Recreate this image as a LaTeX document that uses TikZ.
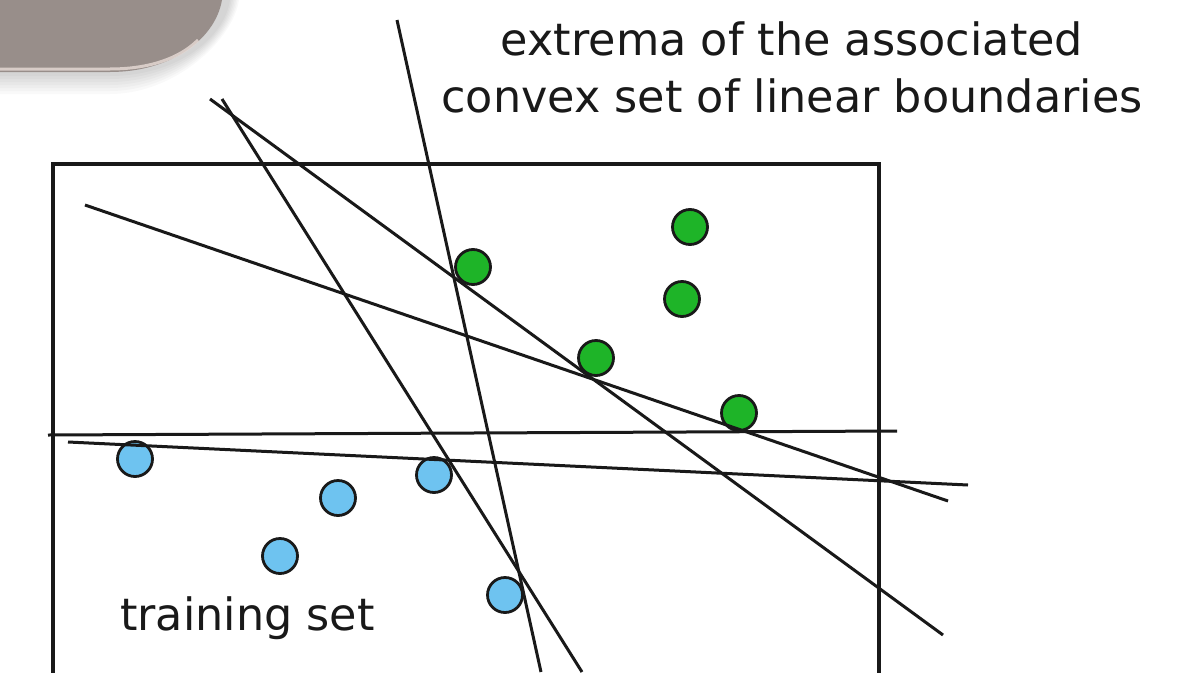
\documentclass[tikz,border=0pt]{standalone}
\usepackage{fontspec}
\setmainfont{DejaVu Sans}
\begin{document}
\begin{tikzpicture}[x=1pt,y=-1pt,
  bline/.style={line width=3pt,black!90},
  frame/.style={line width=3.2pt,black!90},
  gdot/.style={circle,draw=black!90,line width=2.8pt,minimum size=35pt,inner sep=0pt},
  bdot/.style={circle,draw=black!90,line width=2.8pt,minimum size=35pt,inner sep=0pt},
  lbl/.style={font=\fontsize{44.5}{57}\selectfont,text=black!90,inner sep=0pt}]
\definecolor{gfill}{RGB}{30,180,40}
\definecolor{bfill}{RGB}{110,195,240}
\definecolor{deco}{RGB}{152,142,138}
\definecolor{decolight}{RGB}{232,220,215}
\tikzset{gdot/.append style={fill=gfill},bdot/.append style={fill=bfill}}
\useasboundingbox (0,0) rectangle (1204,672);
\fill[white] (0,0) rectangle (1204,672);
% decoration top-left
\foreach \s in {22,19,16,13,10,7,4}{
  \fill[black,opacity=0.025] (0,72+\s) -- (110,72+\s) .. controls (175,72+\s) and (222+\s/2,40) .. (228+\s/2,0) -- (0,0) -- cycle;
}
\fill[deco] (0,72) -- (110,72) .. controls (170,72) and (215,40) .. (222,0) -- (0,0) -- cycle;
\draw[decolight,line width=3pt,opacity=0.8] (0,69) -- (110,69) .. controls (150,69) and (180,58) .. (198,40);
% frame
\draw[frame] (53,680) -- (53,164) -- (879,164) -- (879,680);
% circles
\node[gdot] (g1) at (690,227) {};
\node[gdot] (g2) at (473,267) {};
\node[gdot] (g3) at (682,299) {};
\node[gdot] (g4) at (596,358) {};
\node[gdot] (g5) at (739,413) {};
\node[bdot] (b1) at (135,459) {};
\node[bdot] (b2) at (338,498) {};
\node[bdot] (b3) at (434,475) {};
\node[bdot] (b4) at (280,556) {};
\node[bdot] (b5) at (505,595) {};
% boundary lines
\coordinate (a1) at (397,20);   \coordinate (a2) at (541,672);
\coordinate (bb1) at (222,99);  \coordinate (bb2) at (582,672);
\coordinate (c1) at (85,205);   \coordinate (c2) at (948,501);
\coordinate (d1) at (48,435);   \coordinate (d2) at (897,431);
\coordinate (e1) at (68,442);   \coordinate (e2) at (968,485);
\coordinate (f1) at (210,99);   \coordinate (f2) at (943,635);
\draw[bline] (a1) -- (a2);
\draw[bline] (bb1) -- (bb2);
\draw[bline] (c1) -- (c2);
\draw[bline] (d1) -- (d2);
\draw[bline] (e1) -- (e2);
\draw[bline] (f1) -- (f2);
% labels
\node[lbl,anchor=base] (t1) at (792,55) {extrema of the associated};
\node[lbl,anchor=base] (t2) at (792,112) {convex set of linear boundaries};
\node[lbl,anchor=base west] (t3) at (120,630) {training set};
\end{tikzpicture}
\end{document}
